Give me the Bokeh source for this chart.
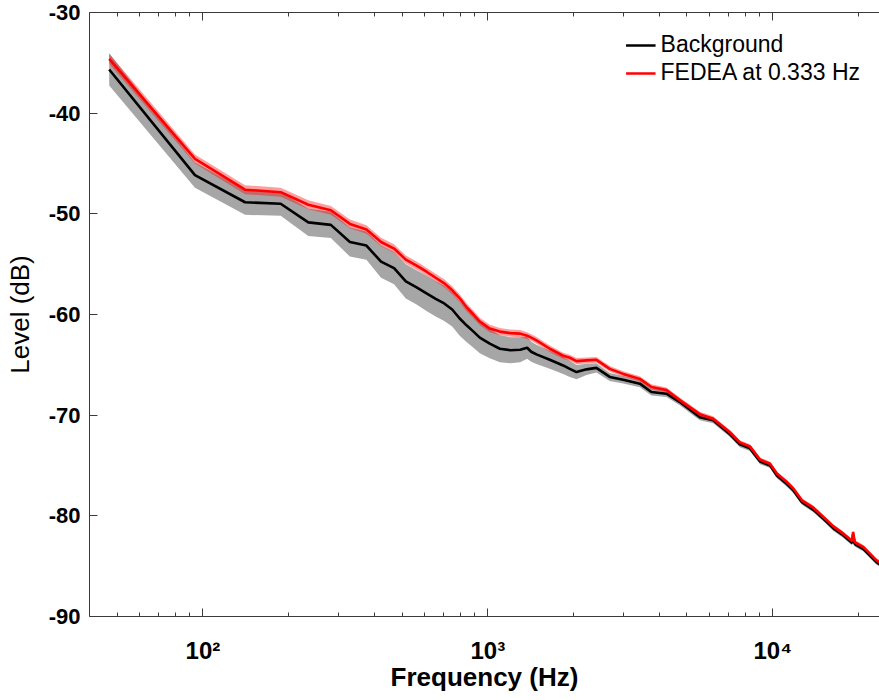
from bokeh.plotting import figure
from bokeh.models import LogAxis, FixedTicker, Legend, LegendItem, Range1d
from bokeh.embed import file_html
from bokeh.resources import INLINE

# ---- data ----
freq_hz = [46.9, 93.8, 140.6, 187.5, 234.4, 281.3, 328.1, 375.0, 421.9, 468.8,
           515.6, 562.5, 609.4, 656.3, 703.1, 750.0, 796.9, 843.8, 890.6, 937.5,
           1016, 1102, 1200, 1300, 1374, 1420, 1482, 1650, 1838, 1940,
           2048, 2220, 2405, 2679, 2987, 3417, 3751, 4237, 4719, 5547,
           6177, 7078, 7667, 8316, 9025, 9790, 10340, 11210, 11830, 12660,
           13890, 15060, 16330, 17710, 19000, 19150, 19400, 20820, 23130, 23700]

background_db = [-35.66, -46.15, -48.85, -49.0, -50.85, -51.1, -52.8, -53.15, -54.75, -55.4,
                 -56.7, -57.3, -57.9, -58.45, -58.9, -59.5, -60.4, -61.1, -61.7, -62.3,
                 -62.9, -63.4, -63.55, -63.5, -63.3, -63.7, -63.96, -64.5, -65.06, -65.4,
                 -65.72, -65.45, -65.3, -66.2, -66.48, -66.87, -67.7, -67.87, -68.7, -70.2,
                 -70.5, -71.9, -72.9, -73.3, -74.6, -75.0, -76.0, -76.85, -77.5, -78.65,
                 -79.4, -80.3, -81.25, -81.95, -82.7, -81.8, -82.8, -83.3, -84.6, -84.8]

background_sd = [1.6, 1.25, 1.25, 1.2, 1.35, 1.3, 1.45, 1.4, 1.6, 1.6,
                 1.7, 1.7, 1.75, 1.75, 1.75, 1.7, 1.7, 1.65, 1.6, 1.55,
                 1.45, 1.35, 1.3, 1.25, 1.1, 1.0, 0.95, 0.9, 0.85, 0.8,
                 0.7, 0.55, 0.45, 0.4, 0.38, 0.35, 0.35, 0.33, 0.32, 0.3,
                 0.3, 0.28, 0.28, 0.27, 0.27, 0.26, 0.26, 0.25, 0.25, 0.25,
                 0.25, 0.25, 0.25, 0.25, 0.25, 0.25, 0.25, 0.25, 0.25, 0.25]

fedea_db = [-34.6, -44.55, -47.6, -47.85, -49.1, -49.65, -51.0, -51.55, -52.8, -53.45,
            -54.55, -55.15, -55.75, -56.35, -56.9, -57.6, -58.4, -59.3, -60.0, -60.7,
            -61.4, -61.7, -61.85, -61.9, -62.1, -62.3, -62.57, -63.4, -64.1, -64.3,
            -64.63, -64.56, -64.5, -65.4, -65.9, -66.4, -67.2, -67.5, -68.5, -69.9,
            -70.35, -71.7, -72.7, -73.1, -74.42, -74.82, -75.8, -76.64, -77.3, -78.46,
            -79.19, -80.12, -81.05, -81.77, -82.5, -81.6, -82.6, -83.1, -84.42, -84.6]

fedea_sd = [0.5, 0.45, 0.45, 0.45, 0.45, 0.43, 0.43, 0.42, 0.42, 0.42,
            0.41, 0.41, 0.4, 0.4, 0.4, 0.4, 0.4, 0.4, 0.4, 0.38,
            0.37, 0.36, 0.35, 0.35, 0.34, 0.34, 0.33, 0.32, 0.31, 0.3,
            0.3, 0.3, 0.29, 0.28, 0.27, 0.26, 0.26, 0.25, 0.25, 0.24,
            0.23, 0.22, 0.22, 0.21, 0.21, 0.2, 0.2, 0.2, 0.2, 0.2,
            0.2, 0.2, 0.2, 0.2, 0.2, 0.2, 0.2, 0.2, 0.2, 0.2]

x_major_ticks = [100, 1000, 10000]
x_major_labels = ["10²", "10³", "10⁴"]
x_minor_ticks = [50, 60, 70, 80, 90,
                 200, 300, 400, 500, 600, 700, 800, 900,
                 2000, 3000, 4000, 5000, 6000, 7000, 8000, 9000,
                 20000]
y_ticks = [-90, -80, -70, -60, -50, -40, -30]
y_tick_labels = ["-90", "-80", "-70", "-60", "-50", "-40", "-30"]

series_labels = ["Background", "FEDEA at 0.333 Hz"]

# ---- derived band edges ----
bg_lo = [m - s for m, s in zip(background_db, background_sd)]
bg_hi = [m + s for m, s in zip(background_db, background_sd)]
fe_lo = [m - s for m, s in zip(fedea_db, fedea_sd)]
fe_hi = [m + s for m, s in zip(fedea_db, fedea_sd)]

FONT = "Liberation Sans"

p = figure(width=879, height=700, x_axis_type="log",
           x_range=Range1d(40, 23700), y_range=Range1d(-90, -30),
           output_backend="svg", toolbar_location=None,
           min_border_left=89, min_border_right=0,
           min_border_top=12, min_border_bottom=84)
p.outline_line_color = None
p.xgrid.visible = False
p.ygrid.visible = False
p.background_fill_color = "white"
p.border_fill_color = "white"

p.varea(x=freq_hz, y1=bg_lo, y2=bg_hi, fill_color="#a6a6a6", fill_alpha=1.0)
r_bg = p.line(freq_hz, background_db, line_color="black", line_width=2.6)
p.varea(x=freq_hz, y1=fe_lo, y2=fe_hi, fill_color="#ff0000", fill_alpha=0.38)
r_fe = p.line(freq_hz, fedea_db, line_color="#ff0000", line_width=2.6)

AX_COLOR = "#3a3a3a"

# bottom axis
xa = p.xaxis[0]
xa.ticker = FixedTicker(ticks=x_major_ticks, minor_ticks=x_minor_ticks)
xa.major_label_overrides = {t: l for t, l in zip(x_major_ticks, x_major_labels)}
xa.major_tick_in = 8
xa.major_tick_out = 0
xa.minor_tick_in = 4
xa.minor_tick_out = 0
xa.axis_line_color = AX_COLOR
xa.major_tick_line_color = AX_COLOR
xa.minor_tick_line_color = AX_COLOR
xa.major_label_text_font = FONT
xa.major_label_text_font_style = "bold"
xa.major_label_text_font_size = "24px"
xa.major_label_text_color = "black"
xa.major_label_standoff = 20
xa.axis_label = "Frequency (Hz)"
xa.axis_label_text_font = FONT
xa.axis_label_text_font_style = "bold"
xa.axis_label_text_font_size = "26px"
xa.axis_label_text_color = "black"
xa.axis_label_standoff = -5

# top axis (ticks only, labels invisible)
top = LogAxis(ticker=FixedTicker(ticks=x_major_ticks, minor_ticks=x_minor_ticks))
top.major_tick_in = 8
top.major_tick_out = 0
top.minor_tick_in = 4
top.minor_tick_out = 0
top.axis_line_color = AX_COLOR
top.major_tick_line_color = AX_COLOR
top.minor_tick_line_color = AX_COLOR
top.major_label_text_font_size = "6px"
top.major_label_text_color = None
top.major_label_standoff = 0
p.add_layout(top, "above")

# left axis
ya = p.yaxis[0]
ya.ticker = FixedTicker(ticks=y_ticks, minor_ticks=[])
ya.major_label_overrides = {t: l for t, l in zip(y_ticks, y_tick_labels)}
ya.major_tick_in = 8
ya.major_tick_out = 0
ya.minor_tick_line_color = None
ya.axis_line_color = AX_COLOR
ya.major_tick_line_color = AX_COLOR
ya.major_label_text_font = FONT
ya.major_label_text_font_style = "bold"
ya.major_label_text_font_size = "22px"
ya.major_label_text_color = "black"
ya.major_label_standoff = 9
ya.axis_label = "Level (dB)"
ya.axis_label_text_font = FONT
ya.axis_label_text_font_style = "normal"
ya.axis_label_text_font_size = "26px"
ya.axis_label_text_color = "black"
ya.axis_label_standoff = 11

legend = Legend(items=[LegendItem(label=series_labels[0], renderers=[r_bg]),
                       LegendItem(label=series_labels[1], renderers=[r_fe])],
                location="top_right")
legend.label_text_font = FONT
legend.label_text_font_size = "23px"
legend.label_text_color = "black"
legend.glyph_width = 30
legend.label_standoff = 5
legend.spacing = 1
legend.padding = 6
legend.margin = 19
legend.border_line_color = None
legend.background_fill_alpha = 0
p.add_layout(legend)

open("out.html", "w").write(file_html(p, INLINE))
